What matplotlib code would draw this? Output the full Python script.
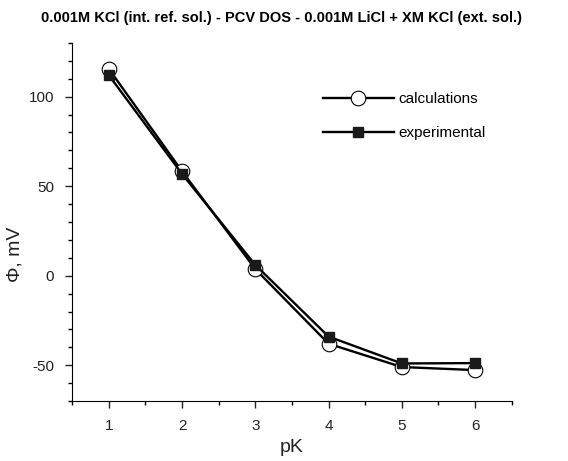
import matplotlib
matplotlib.use("Agg")
import matplotlib.pyplot as plt
from matplotlib.ticker import MultipleLocator

plt.rcParams['font.family'] = ['Liberation Sans', 'DejaVu Sans']
plt.rcParams['axes.unicode_minus'] = False

pk = [1, 2, 3, 4, 5, 6]
calculations = [115.5, 58.3, 3.7, -38.0, -51.0, -52.7]
experimental = [112.0, 56.8, 6.0, -34.0, -49.0, -48.8]

fig = plt.figure(figsize=(5.68, 4.61), dpi=100)
ax = fig.add_axes([0.127, 0.130, 0.774, 0.777])

ax.plot(pk, calculations, color='black', lw=1.7, marker='o', ms=10.5,
        mfc='white', mec='black', mew=0.8, label='calculations')
ax.plot(pk, experimental, color='black', lw=1.7, marker='s', ms=7.5,
        mfc='#1a1a1a', mec='#1a1a1a', label='experimental')

ax.set_xlim(0.5, 6.5)
ax.set_ylim(-70, 130)
ax.xaxis.set_major_locator(MultipleLocator(1))
ax.xaxis.set_minor_locator(MultipleLocator(0.5))
ax.yaxis.set_major_locator(MultipleLocator(50))
ax.yaxis.set_minor_locator(MultipleLocator(10))
ax.tick_params(which='major', direction='out', length=5, width=1, labelsize=11,
               colors='#222222', pad=8)
ax.tick_params(which='minor', direction='out', length=3, width=1)

for s in ['top', 'right']:
    ax.spines[s].set_visible(False)

ax.set_xlabel('pK', fontsize=14, color='#222222', labelpad=4)
ax.set_ylabel('Φ, mV', fontsize=14, color='#222222', va='center')
ax.yaxis.set_label_coords(-0.13, 0.41)
fig.text(0.495, 0.962, '0.001M KCl (int. ref. sol.) - PCV DOS - 0.001M LiCl + XM KCl (ext. sol.)',
         fontsize=10.5, fontweight='bold', ha='center', va='center')

ax.legend(loc='upper left', bbox_to_anchor=(0.54, 0.9), frameon=False,
          fontsize=11, handlelength=4.6, handletextpad=0.3, labelspacing=1.3)

fig.savefig('out.png', dpi=100)
